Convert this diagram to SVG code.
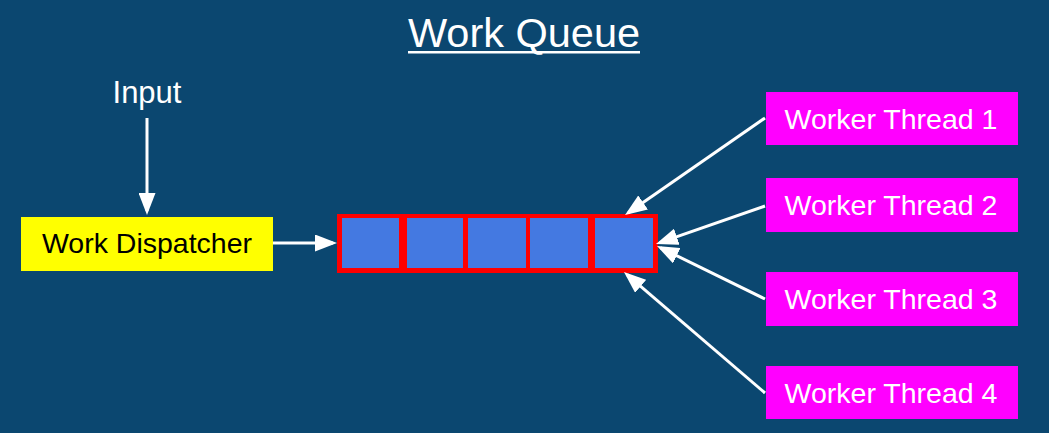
<svg xmlns="http://www.w3.org/2000/svg" width="1049" height="433" viewBox="0 0 1049 433">
<defs>
<marker id="ah" markerUnits="userSpaceOnUse" markerWidth="22" markerHeight="17" refX="18" refY="8.5" orient="auto">
<path d="M0,0 L22,8.5 L0,17 z" fill="#ffffff"/>
</marker>
<style>
text{font-family:"Liberation Sans",Arial,sans-serif}
.w{fill:#ffffff}
.wt{fill:#ff00ff}
.cell{fill:#4479e1}
.c{stroke:#ffffff;stroke-width:3;fill:none;marker-end:url(#ah)}
</style>
</defs>
<rect width="1049" height="433" fill="#0b4770"/>
<g id="title">
<text x="524" y="47" font-size="41.5" text-anchor="middle" class="w">Work Queue</text>
<rect x="408" y="51" width="232" height="2.5" fill="#ffffff"/>
</g>
<g id="input">
<text x="147" y="103" font-size="31" text-anchor="middle" class="w">Input</text>
</g>
<g id="dispatcher">
<rect x="21" y="217" width="252" height="54" fill="#ffff00"/>
<text x="147" y="253" font-size="28.5" text-anchor="middle" fill="#000000">Work Dispatcher</text>
</g>
<g id="queue">
<rect x="337" y="214" width="321" height="59" fill="#ff0000"/>
<rect class="cell" x="342" y="218" width="57" height="50"/>
<rect class="cell" x="407" y="218" width="56" height="50"/>
<rect class="cell" x="468" y="218" width="58" height="50"/>
<rect class="cell" x="530" y="218" width="58" height="50"/>
<rect class="cell" x="595" y="218" width="58" height="50"/>
</g>
<g id="worker1">
<rect class="wt" x="766" y="92" width="252" height="53"/>
<text x="891" y="129" font-size="28.5" text-anchor="middle" class="w">Worker Thread 1</text>
</g>
<g id="worker2">
<rect class="wt" x="766" y="178" width="252" height="54"/>
<text x="891" y="215" font-size="28.5" text-anchor="middle" class="w">Worker Thread 2</text>
</g>
<g id="worker3">
<rect class="wt" x="766" y="272" width="252" height="54"/>
<text x="891" y="309" font-size="28.5" text-anchor="middle" class="w">Worker Thread 3</text>
</g>
<g id="worker4">
<rect class="wt" x="766" y="366" width="252" height="53"/>
<text x="891" y="403" font-size="28.5" text-anchor="middle" class="w">Worker Thread 4</text>
</g>
<g id="connectors">
<line class="c" x1="147" y1="118" x2="147" y2="211"/>
<line class="c" x1="273" y1="243" x2="333" y2="243"/>
<line class="c" x1="765" y1="118" x2="628.3" y2="212.7"/>
<line class="c" x1="765" y1="206" x2="659.8" y2="242.7"/>
<line class="c" x1="765" y1="299" x2="660.6" y2="247.8"/>
<line class="c" x1="765" y1="393" x2="627" y2="274.6"/>
</g>
</svg>
